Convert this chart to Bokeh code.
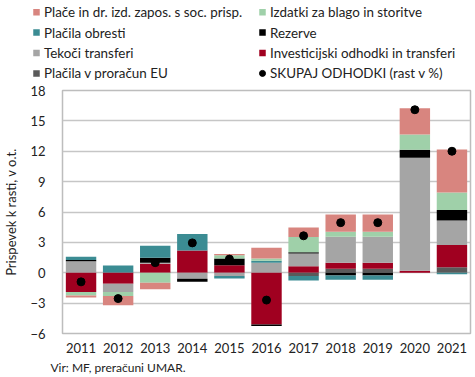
import numpy as np
import pandas as pd
from bokeh.plotting import figure
from bokeh.layouts import column
from bokeh.models import ColumnDataSource, FixedTicker, Range1d
from bokeh.core.properties import value
from bokeh.embed import file_html
from bokeh.resources import INLINE

years = ["2011", "2012", "2013", "2014", "2015", "2016", "2017", "2018", "2019", "2020", "2021"]
place = [-0.2, -0.9, -0.65, 0.0, 0.13, 1.05, 0.95, 1.7, 1.7, 2.6, 4.25]
izdatki = [-0.35, -0.4, -0.98, 0.0, 0.33, 0.23, 1.5, 0.5, 0.5, 1.5, 1.73]
obresti = [0.33, 0.72, 1.18, 1.63, -0.25, 0.2, -0.43, -0.43, -0.43, 0.0, -0.15]
rezerve = [0.12, 0.0, 0.5, -0.3, 0.65, -0.15, 0.12, -0.27, -0.27, 0.8, 1.05]
tekoci = [1.14, -0.82, 0.1, -0.6, -0.33, 0.98, 1.25, 2.55, 2.55, 11.15, 2.4]
invest = [-1.9, -1.08, 0.88, 2.2, 0.75, -5.1, 0.65, 0.6, 0.6, 0.2, 2.2]
eu = [0.0, 0.0, 0.0, 0.0, 0.0, 0.0, -0.33, 0.4, 0.4, 0.0, 0.55]
skupaj = [-0.9, -2.55, 1.0, 2.95, 1.35, -2.7, 3.65, 4.95, 4.95, 16.1, 12.0]

y_ticks = [-6, -3, 0, 3, 6, 9, 12, 15, 18]

# stacking order bottom -> top
series = [
    ("eu", eu, "#5A5A5A", "Plačila v proračun EU"),
    ("invest", invest, "#A00020", "Investicijski odhodki in transferi"),
    ("tekoci", tekoci, "#A5A5A5", "Tekoči transferi"),
    ("rezerve", rezerve, "#000000", "Rezerve"),
    ("obresti", obresti, "#3B8C93", "Plačila obresti"),
    ("izdatki", izdatki, "#9FD0A9", "Izdatki za blago in storitve"),
    ("place", place, "#D8857F", "Plače in dr. izd. zapos. s soc. prisp."),
]
total_label = "SKUPAJ ODHODKI (rast v %)"
source_note = "Vir: MF, preračuni UMAR."

# legend order, row by row (two columns)
legend_order = ["place", "izdatki", "obresti", "rezerve", "tekoci", "invest", "eu", "skupaj"]

FONT = "Lato"
TXT = "#222222"
W = 475

data = {"year": years, "skupaj": skupaj}
for key, vals, _, _ in series:
    arr = np.array(vals, dtype=float)
    data[key + "_pos"] = np.maximum(arr, 0)
    data[key + "_neg"] = np.minimum(arr, 0)
source = ColumnDataSource(pd.DataFrame(data))

# ---------------- legend strip ----------------
LH = 83
lg = figure(width=W, height=LH, x_range=Range1d(0, W), y_range=Range1d(LH, 0),
            x_axis_type=None, y_axis_type=None,
            output_backend="svg", toolbar_location=None,
            min_border=0, outline_line_color=None, frame_align=False)
lg.grid.visible = False

info = {s[0]: (s[2], s[3]) for s in series}
info["skupaj"] = ("#000000", total_label)
col_x = [36.0, 262.0]
row_y = [11.7, 32.1, 52.5, 72.9]
sq_x, sq_y, sq_c, tx_x, tx_y, tx_t = [], [], [], [], [], []
dot_x, dot_y = [], []
for i, key in enumerate(legend_order):
    r, c = divmod(i, 2)
    color, label = info[key]
    if key == "skupaj":
        dot_x.append(col_x[c]); dot_y.append(row_y[r])
    else:
        sq_x.append(col_x[c]); sq_y.append(row_y[r]); sq_c.append(color)
    tx_x.append(col_x[c] + 7.5); tx_y.append(row_y[r]); tx_t.append(label)

lg.scatter(sq_x, sq_y, marker="square", size=6.5, color=sq_c, line_color=None)
lg.scatter(dot_x, dot_y, marker="circle", size=6, color="black")
lg.text(tx_x, tx_y, text=tx_t, text_font=value(FONT), text_font_size="13.4px",
        text_baseline="middle", text_align="left", text_color=TXT)

# ---------------- main chart ----------------
p = figure(x_range=years, y_range=Range1d(-6, 18), width=W, height=272,
           output_backend="svg", toolbar_location=None,
           min_border_left=53, min_border_right=5, min_border_top=7, min_border_bottom=21)

pos_keys = [s[0] + "_pos" for s in series]
neg_keys = [s[0] + "_neg" for s in series]
colors = [s[2] for s in series]

p.vbar_stack(pos_keys, x="year", width=0.82, color=colors, line_color=None, source=source)
p.vbar_stack(neg_keys, x="year", width=0.82, color=colors, line_color=None, source=source)
p.scatter(x="year", y="skupaj", size=8, color="black", source=source)

p.yaxis.ticker = FixedTicker(ticks=y_ticks)
p.yaxis.axis_label = "Prispevek k rasti, v o.t."
p.yaxis.axis_label_text_font = FONT
p.yaxis.axis_label_text_font_style = "normal"
p.yaxis.axis_label_text_font_size = "13px"
p.yaxis.axis_label_text_color = TXT
p.yaxis.axis_label_standoff = 8
p.yaxis.major_label_text_font = FONT
p.yaxis.major_label_text_font_size = "13px"
p.yaxis.major_label_text_color = TXT
p.yaxis.major_label_standoff = 11
p.yaxis.axis_line_color = None
p.yaxis.major_tick_line_color = None
p.yaxis.minor_tick_line_color = None

p.xaxis.major_label_text_font = FONT
p.xaxis.major_label_text_font_size = "13px"
p.xaxis.major_label_text_color = TXT
p.xaxis.major_label_standoff = 3
p.xaxis.axis_line_color = None
p.xaxis.major_tick_line_color = None
p.x_range.range_padding = 0.0

p.xgrid.grid_line_color = None
p.ygrid.grid_line_color = "#C6C6C6"
p.ygrid.grid_line_width = 1.5
p.outline_line_color = "#BDBDBD"
p.outline_line_width = 1.5

# ---------------- source strip ----------------
SH = 22
sf = figure(width=W, height=SH, x_range=Range1d(0, W), y_range=Range1d(SH, 0),
            x_axis_type=None, y_axis_type=None,
            output_backend="svg", toolbar_location=None,
            min_border=0, outline_line_color=None, frame_align=False)
sf.grid.visible = False
sf.text([50], [11.5], text=[source_note], text_font=value(FONT), text_font_size="12px",
        text_baseline="middle", text_align="left", text_color=TXT)

layout = column(lg, p, sf, spacing=0)
open("out.html", "w").write(file_html(layout, INLINE))
